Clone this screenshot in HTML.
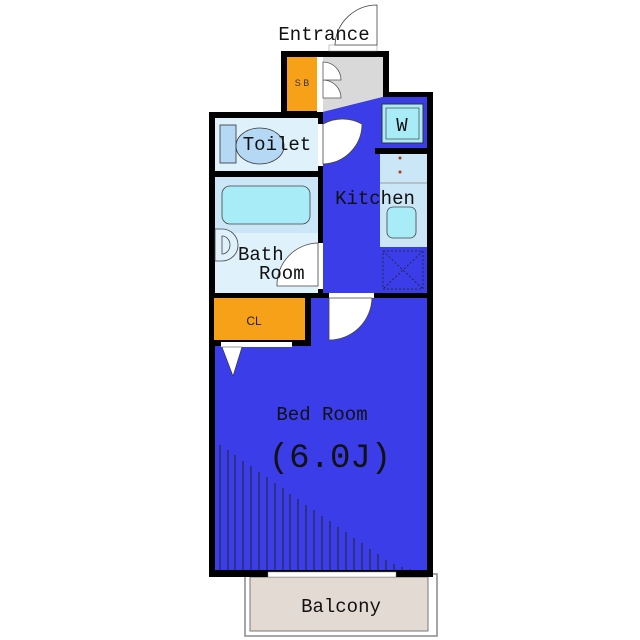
<!DOCTYPE html>
<html><head><meta charset="utf-8"><style>html,body{margin:0;padding:0;background:#fff}svg{display:block}</style></head><body>
<svg width="640" height="640" viewBox="0 0 640 640" xmlns="http://www.w3.org/2000/svg" font-family="'Liberation Mono', monospace">
<rect x="245" y="574" width="192" height="62" fill="#fff" stroke="#888" stroke-width="1.5"/>
<rect x="250" y="577" width="178" height="54" fill="#e3dbd3" stroke="#777" stroke-width="1"/>
<rect x="281" y="51" width="108" height="62" fill="#000"/>
<rect x="209" y="112" width="224" height="465" fill="#000"/>
<rect x="389" y="92" width="44" height="22" fill="#000"/>
<rect x="287" y="57" width="30" height="54" fill="#f6a118"/>
<text x="302" y="86" font-size="9" text-anchor="middle" fill="#333" font-family="'Liberation Sans', sans-serif">S B</text>
<polygon points="323,57 383,57 383,97 323,112" fill="#d9d9d9"/>
<rect x="317" y="57" width="6" height="55" fill="#fff"/>
<path d="M323,62 A18,18 0 0 1 341,80 L323,80 Z M323,80 A18,18 0 0 1 341,98 L323,98 Z" fill="#fff" stroke="#555" stroke-width="0.8"/>
<polygon points="323,112 383,97 427,97 427,293 323,293" fill="#3a3de8"/>
<rect x="215" y="118" width="103" height="53" fill="#dff1fb"/>
<rect x="220" y="125" width="16" height="38" fill="#b5d8f4" stroke="#333" stroke-width="0.8"/>
<ellipse cx="260" cy="146" rx="24" ry="18" fill="#b5d8f4" stroke="#333" stroke-width="0.8"/>
<rect x="318" y="124" width="5" height="42" fill="#fff"/>
<path d="M323,124 A40,40 0 0 1 362,124 A40,40 0 0 1 323,164 Z" fill="#fff" stroke="#444" stroke-width="0.8"/>
<rect x="215" y="177" width="103" height="116" fill="#dff1fb"/>
<rect x="215" y="177" width="103" height="56" fill="#cbe6f6"/>
<rect x="222" y="186" width="88" height="38" rx="8" fill="#a8ecf8" stroke="#444" stroke-width="0.8"/>
<path d="M215,229 L222,229 A16,16 0 0 1 222,261 L215,261 Z" fill="#dff1fb" stroke="#444" stroke-width="0.8"/>
<path d="M222,236 A8,9 0 0 1 222,254 Z" fill="#dff1fb" stroke="#444" stroke-width="0.8"/>
<rect x="318" y="243" width="5" height="46" fill="#fff"/>
<path d="M318,243 A42,42 0 0 0 277,286 L318,286 Z" fill="#fff" stroke="#444" stroke-width="0.8"/>
<rect x="382" y="104" width="41" height="39" fill="#a8ecf8" stroke="#333" stroke-width="1"/>
<rect x="386" y="108" width="33" height="31" fill="none" stroke="#555" stroke-width="0.8"/>
<rect x="375" y="148" width="55" height="6" fill="#000"/>
<rect x="380" y="154" width="47" height="93" fill="#cbe6f6"/>
<line x1="380" y1="183" x2="427" y2="183" stroke="#888" stroke-width="0.8"/>
<circle cx="400" cy="158" r="1.5" fill="#a04010"/>
<circle cx="400" cy="172" r="1.5" fill="#a04010"/>
<rect x="387" y="207" width="29" height="31" rx="6" fill="#a8ecf8" stroke="#444" stroke-width="0.8"/>
<rect x="383" y="251" width="40" height="38" fill="none" stroke="#222" stroke-width="0.8" stroke-dasharray="2,2"/>
<line x1="383" y1="251" x2="423" y2="289" stroke="#222" stroke-width="0.8" stroke-dasharray="2,2"/>
<line x1="423" y1="251" x2="383" y2="289" stroke="#222" stroke-width="0.8" stroke-dasharray="2,2"/>
<rect x="215" y="298" width="212" height="272" fill="#3a3de8"/>
<rect x="214" y="298" width="91" height="42" fill="#f6a118"/>
<text x="254" y="325" font-size="12" text-anchor="middle" fill="#222" font-family="'Liberation Sans', sans-serif">CL</text>
<rect x="305" y="298" width="6" height="48" fill="#000"/>
<rect x="209" y="340" width="102" height="6" fill="#000"/>
<rect x="221" y="342" width="71" height="5" fill="#fff"/>
<polygon points="222,347 242,347 233,376" fill="#fff" stroke="#333" stroke-width="0.6"/>
<rect x="329" y="293" width="45" height="5" fill="#fff"/>
<path d="M329,298 L372,298 A43,43 0 0 1 329,340 Z" fill="#fff" stroke="#444" stroke-width="0.8"/>
<g stroke="#222" stroke-width="1">
<line x1="220" y1="445" x2="220" y2="570"/><line x1="228" y1="450" x2="228" y2="570"/><line x1="235" y1="455" x2="235" y2="570"/><line x1="243" y1="461" x2="243" y2="570"/><line x1="251" y1="466" x2="251" y2="570"/><line x1="259" y1="472" x2="259" y2="570"/><line x1="267" y1="477" x2="267" y2="570"/><line x1="275" y1="483" x2="275" y2="570"/><line x1="283" y1="488" x2="283" y2="570"/><line x1="290" y1="494" x2="290" y2="570"/><line x1="298" y1="499" x2="298" y2="570"/><line x1="306" y1="505" x2="306" y2="570"/><line x1="314" y1="510" x2="314" y2="570"/><line x1="322" y1="516" x2="322" y2="570"/><line x1="330" y1="521" x2="330" y2="570"/><line x1="338" y1="527" x2="338" y2="570"/><line x1="346" y1="532" x2="346" y2="570"/><line x1="354" y1="538" x2="354" y2="570"/><line x1="362" y1="543" x2="362" y2="570"/><line x1="370" y1="549" x2="370" y2="570"/><line x1="378" y1="554" x2="378" y2="570"/><line x1="386" y1="560" x2="386" y2="570"/><line x1="394" y1="564" x2="394" y2="570"/><line x1="402" y1="567" x2="402" y2="570"/><line x1="410" y1="569" x2="410" y2="570"/>
</g>
<rect x="268" y="572" width="128" height="5" fill="#fff" stroke="#888" stroke-width="0.5"/>
<rect x="329" y="45" width="48" height="6" fill="#fff" stroke="#888" stroke-width="0.5"/>
<path d="M377,45 L377,5 A42,42 0 0 0 335,45 Z" fill="#fff" stroke="#444" stroke-width="0.8"/>
<!-- labels -->
<g fill="#111" font-size="19">
<text x="324" y="40" text-anchor="middle">Entrance</text>
<text x="277" y="150" text-anchor="middle">Toilet</text>
<text x="375" y="204" text-anchor="middle">Kitchen</text>
<text x="238" y="260">Bath</text>
<text x="259" y="279">Room</text>
<text x="402" y="131" text-anchor="middle">W</text>
<text x="322" y="420" text-anchor="middle">Bed Room</text>
<text x="330" y="467" text-anchor="middle" font-size="34">(6.0J)</text>
<text x="341" y="612" text-anchor="middle">Balcony</text>
</g>
</svg>
</body></html>
